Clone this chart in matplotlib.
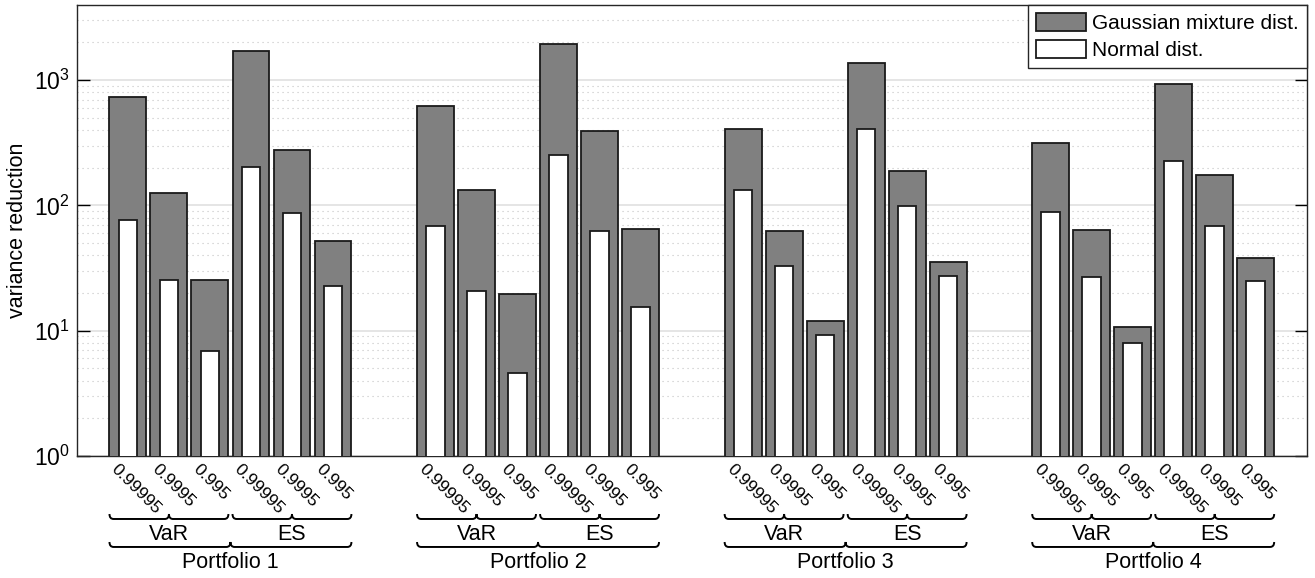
import numpy as np
import matplotlib
matplotlib.use("Agg")
import matplotlib.pyplot as plt
from matplotlib.path import Path
from matplotlib.patches import PathPatch
import matplotlib.transforms as mtransforms

plt.rcParams['font.family'] = ['Liberation Sans', 'DejaVu Sans']
plt.rcParams['mathtext.fontset'] = 'custom'
plt.rcParams['mathtext.rm'] = 'Liberation Sans'

# data
portfolios = ['Portfolio 1', 'Portfolio 2', 'Portfolio 3', 'Portfolio 4']
measures = ['VaR', 'ES']
levels = ['0.99995', '0.9995', '0.995']

gauss_mix = [
    [738, 126, 25.4, 1707, 277, 52.3],
    [621, 132, 19.5, 1929, 395, 65.2],
    [407, 62.8, 11.9, 1377, 187, 35.2],
    [316, 64, 10.8, 931, 174, 37.8],
]
normal = [
    [76.9, 25.5, 6.9, 204, 87.5, 22.6],
    [68.1, 20.7, 4.6, 251, 62.1, 15.5],
    [132, 32.6, 9.3, 409, 98.9, 27.3],
    [88, 26.8, 8.0, 226, 68.1, 24.8],
]

group_step = 7.5
bar_w = 0.9
inner_w = 0.45

fig = plt.figure(figsize=(13.15, 5.78), dpi=100)
ax = fig.add_axes([0.0583, 0.2111, 0.9356, 0.7808])

xs = []
for g in range(len(portfolios)):
    x = 1 + group_step * g + np.arange(len(measures) * len(levels))
    xs.append(x)
    ax.bar(x, gauss_mix[g], width=bar_w, bottom=0, color='#808080',
           edgecolor='#1a1a1a', linewidth=1.3, zorder=3,
           label='Gaussian mixture dist.' if g == 0 else None)
    ax.bar(x, normal[g], width=inner_w, color='white',
           edgecolor='#1a1a1a', linewidth=1.3, zorder=4,
           label='Normal dist.' if g == 0 else None)

ax.set_yscale('log')
ax.set_ylim(1, 4000)
ax.set_xlim(-0.25, 29.75)
ax.set_ylabel('variance reduction', fontsize=15.5, labelpad=4)

ax.yaxis.grid(True, which='major', color='#e0e0e0', linestyle='-', linewidth=1.2, zorder=0)
ax.yaxis.grid(True, which='minor', color='#c4c4c4', linestyle=(0, (1, 3.5)), linewidth=0.8, zorder=0)
ax.set_axisbelow(True)
ax.tick_params(axis='y', which='major', direction='in', length=9, width=1.0,
               right=True, labelsize=16.5, pad=5)
ax.tick_params(axis='y', which='minor', length=0, right=True)
ax.set_xticks([])
for s in ax.spines.values():
    s.set_color('#262626')
    s.set_linewidth(1.0)

trans = mtransforms.blended_transform_factory(ax.transData, ax.transAxes)

# rotated level labels
for g in range(len(portfolios)):
    for i, x in enumerate(xs[g]):
        ax.text(x - 0.34, -0.023, levels[i % len(levels)], transform=trans,
                rotation=-45, rotation_mode='anchor', ha='left', va='center',
                fontsize=12.5, clip_on=False)


def brace(x0, x1, y, h, d=0.1):
    xm = (x0 + x1) / 2
    verts = [(x0, y + h), (x0, y), (x0 + d, y),
             (xm - d, y),
             (xm, y), (xm, y + h),
             (xm, y), (xm + d, y),
             (x1 - d, y),
             (x1, y), (x1, y + h)]
    codes = [Path.MOVETO, Path.CURVE3, Path.CURVE3,
             Path.LINETO,
             Path.CURVE3, Path.CURVE3,
             Path.CURVE3, Path.CURVE3,
             Path.LINETO,
             Path.CURVE3, Path.CURVE3]
    p = PathPatch(Path(verts, codes), transform=trans, fill=False,
                  edgecolor='black', linewidth=1.4, clip_on=False)
    ax.add_patch(p)


n = len(levels)
for g in range(len(portfolios)):
    x = xs[g]
    for m, name in enumerate(measures):
        a = x[m * n] - bar_w / 2
        b = x[m * n + n - 1] + bar_w / 2
        brace(a, b, -0.1396, 0.011)
        ax.text((a + b) / 2, -0.174, name, transform=trans, ha='center',
                va='center', fontsize=15.5, clip_on=False)
    a = x[0] - bar_w / 2
    b = x[-1] + bar_w / 2
    brace(a, b, -0.2016, 0.011)
    ax.text((a + b) / 2, -0.237, portfolios[g], transform=trans, ha='center',
            va='center', fontsize=15.5, clip_on=False)

leg = ax.legend(loc='upper right', borderaxespad=0, fontsize=15,
                handlelength=2.4, handleheight=1.0, handletextpad=0.3,
                labelspacing=0.32, borderpad=0.38, fancybox=False,
                framealpha=1, edgecolor='#262626')
leg.get_frame().set_linewidth(1.0)
leg.set_zorder(10)

fig.savefig('out.png', dpi=100)
